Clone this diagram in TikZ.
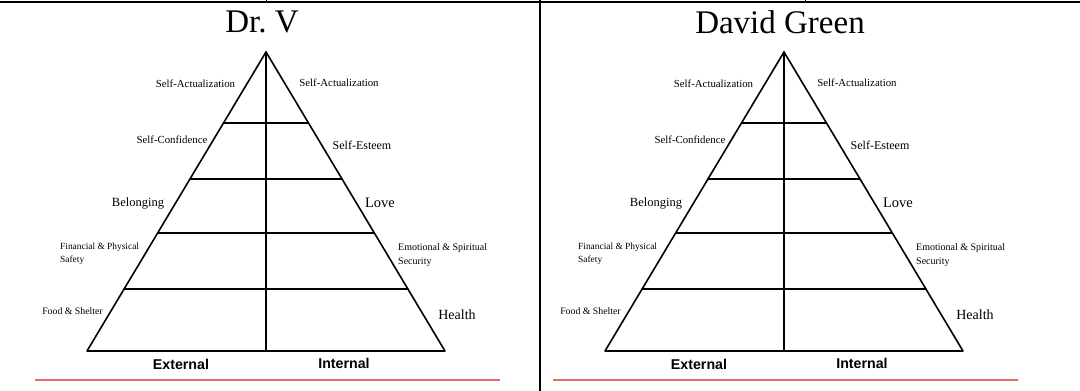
\documentclass[tikz,border=0pt]{standalone}
\usepackage{fontspec}
\setmainfont{Liberation Serif}
\setsansfont{Liberation Sans}
\usetikzlibrary{calc}
\definecolor{redrule}{RGB}{236,106,96}
\tikzset{
  frameline/.style={line width=2pt},
  pyrline/.style={line width=1.6pt, line cap=round, line join=round},
  title/.style={inner sep=0pt, font=\fontsize{33}{33}\selectfont},
  tag/.style={inner sep=0pt, font=\fontsize{#1}{#1}\selectfont},
  tag/.default=10.8,
  side/.style={inner sep=0pt, font=\bfseries\sffamily\fontsize{14.2}{14.2}\selectfont}
}
\begin{document}
\begin{tikzpicture}[x=1pt, y=-1pt]
  \useasboundingbox (0,0) rectangle (1080,391);
  % table rules
  \coordinate (topl) at (0,2);
  \coordinate (topr) at (1080,2);
  \coordinate (midt) at (539.5,0);
  \coordinate (midb) at (539.5,391);
  \coordinate (tick1t) at (266,0);
  \coordinate (tick1b) at (266,2);
  \coordinate (tick2t) at (805,0);
  \coordinate (tick2b) at (805,2);
  \draw[frameline] (topl) -- (topr);
  \draw[frameline] (midt) -- (midb);
  \draw[line width=1pt] (tick1t) -- (tick1b);
  \draw[line width=1pt] (tick2t) -- (tick2b);
  \foreach \p/\o/\t in {a/0/{Dr.\ V}, b/518/{David Green}} {
    \begin{scope}[xshift=\o pt]
      \node (\p-title) at (262,22) [title] {\t};
      % pyramid
      \coordinate (\p-top) at (266,52);
      \coordinate (\p-bl) at (87,351);
      \coordinate (\p-br) at (445,351);
      \coordinate (\p-bc) at (266,351);
      \foreach \n/\f in {1/0.2375, 2/0.4247, 3/0.6054, 4/0.7926} {
        \coordinate (\p-l\n) at ($(\p-top)!\f!(\p-bl)$);
        \coordinate (\p-r\n) at ($(\p-top)!\f!(\p-br)$);
      }
      \draw[pyrline] (\p-top) -- (\p-bl) -- (\p-br) -- cycle;
      \foreach \source/\dest in {\p-top/\p-bc, \p-l1/\p-r1, \p-l2/\p-r2, \p-l3/\p-r3, \p-l4/\p-r4}
        \draw[pyrline] (\source) -- (\dest);
      % labels
      \node (\p-sa1) at (195.5,84) [tag] {Self-Actualization};
      \node (\p-sa2) at (339,83) [tag] {Self-Actualization};
      \node (\p-sc) at (172,140) [tag] {Self-Confidence};
      \node (\p-se) at (362,145) [tag=12] {Self-Esteem};
      \node (\p-bel) at (138,204) [tag=12.5] {Belonging};
      \node (\p-love) at (380,203) [tag=14.5] {Love};
      \node (\p-fin) at (60,253.5) [tag=9.4, anchor=west, align=left] {Financial \& Physical\\[3.5pt]Safety};
      \node (\p-emo) at (398,255) [tag=10, anchor=west, align=left] {Emotional \& Spiritual\\[3.5pt]Security};
      \node (\p-food) at (72.5,311) [tag=9.8] {Food \& Shelter};
      \node (\p-health) at (457,315) [tag=14] {Health};
      \node (\p-ext) at (181,364) [side] {External};
      \node (\p-int) at (344,363) [side] {Internal};
      \coordinate (\p-ruleL) at (35,379.5);
      \coordinate (\p-ruleR) at (500,379.5);
      \draw[redrule, line width=2pt] (\p-ruleL) -- (\p-ruleR);
    \end{scope}
  }
\end{tikzpicture}
\end{document}
